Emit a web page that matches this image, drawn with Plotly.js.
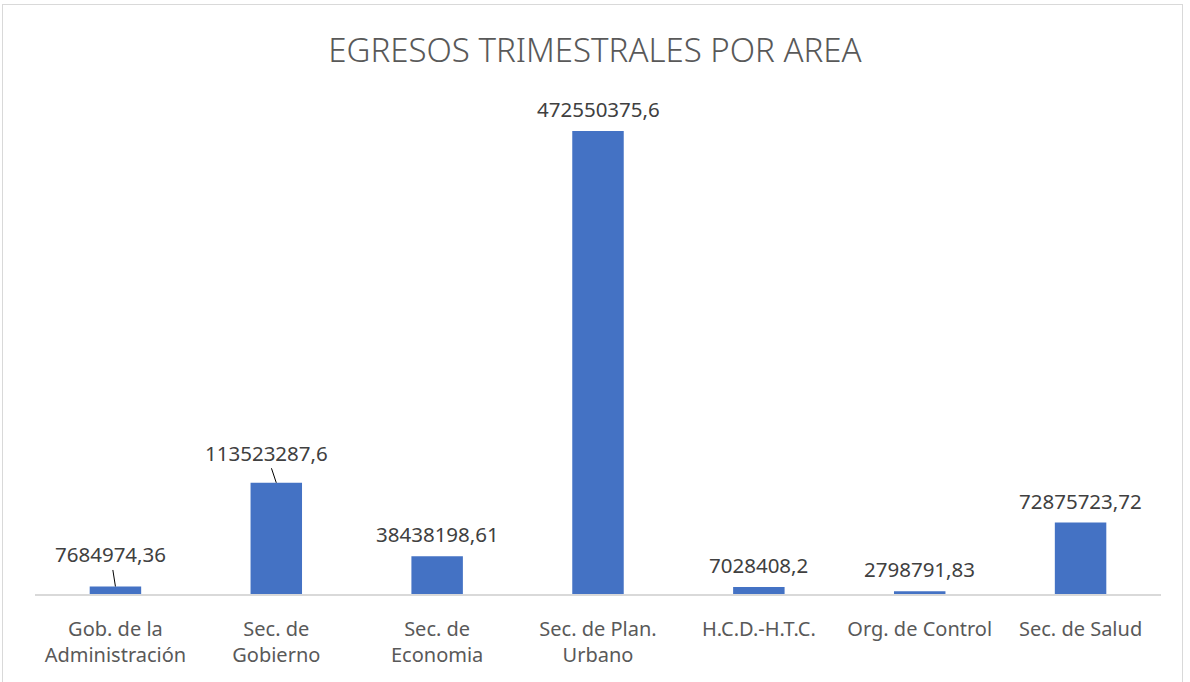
<!DOCTYPE html>
<html>
<head>
<meta charset="utf-8">
<script src="https://cdn.plot.ly/plotly-3.0.1.min.js"></script>
<style>
  html, body { margin: 0; padding: 0; background: #fff; }
  #wrap { position: relative; width: 1190px; height: 682px; overflow: hidden; }
  #chart { width: 1190px; height: 682px; }
  #frame { position: absolute; left: 2px; top: 4px; width: 1179px; height: 700px; border: 1px solid #d9d9d9; pointer-events: none; }
</style>
</head>
<body>
<div id="wrap"><div id="chart"></div><div id="frame"></div></div>
<script>
const categories = ["Gob. de la<br>Administración", "Sec. de<br>Gobierno", "Sec. de<br>Economia", "Sec. de Plan.<br>Urbano", "H.C.D.-H.T.C.", "Org. de Control", "Sec. de Salud"];
const values = [7684974.36, 113523287.6, 38438198.61, 472550375.6, 7028408.2, 2798791.83, 72875723.72];
const labels = values.map(v => String(v).replace('.', ','));
const leader = [true, true, false, false, false, false, false];
const leaderOffsetX = [-5, -10, 0, 0, 0, 0, 0];
const leaderOffsetY = [-32, -30, 0, 0, 0, 0, 0];

const xs = categories.map((c, i) => i);

const labelFont = {family: 'Noto Sans, sans-serif', size: 20.5, color: '#404040'};

const annotations = values.map((v, i) => {
  if (leader[i]) {
    return {
      x: i, y: v, xref: 'x', yref: 'y', text: labels[i],
      showarrow: true, arrowhead: 0, arrowwidth: 1, arrowcolor: '#000000',
      ax: leaderOffsetX[i], ay: leaderOffsetY[i], standoff: 0,
      font: labelFont
    };
  }
  return {
    x: i, y: v, xref: 'x', yref: 'y', text: labels[i], showarrow: false,
    yanchor: 'bottom', yshift: 6,
    font: labelFont
  };
});

const trace = {
  type: 'bar', x: xs, y: values,
  marker: {color: '#4472C4'},
  hoverinfo: 'none'
};

const layout = {
  width: 1190, height: 682,
  margin: {l: 35, r: 29, t: 104, b: 88},
  paper_bgcolor: '#ffffff', plot_bgcolor: '#ffffff',
  bargap: 0.68,
  showlegend: false,
  title: {
    text: 'EGRESOS TRIMESTRALES POR AREA',
    x: 0.5, xanchor: 'center', y: 0.926, yanchor: 'middle',
    font: {family: 'Noto Sans, sans-serif', size: 33, color: '#595959', weight: 300}
  },
  xaxis: {
    tickmode: 'array', tickvals: xs, ticktext: categories,
    range: [-0.5, 6.5], showline: true, linecolor: '#d9d9d9', linewidth: 1.5,
    ticks: '', showgrid: false, zeroline: false, ticklabelstandoff: 16,
    tickfont: {family: 'Noto Sans, sans-serif', size: 20, color: '#595959'}
  },
  yaxis: {
    range: [0, 500000000], visible: false, showgrid: false, zeroline: false
  },
  annotations: annotations
};

Plotly.newPlot('chart', [trace], layout, {staticPlot: true, displayModeBar: false});
</script>
</body>
</html>
